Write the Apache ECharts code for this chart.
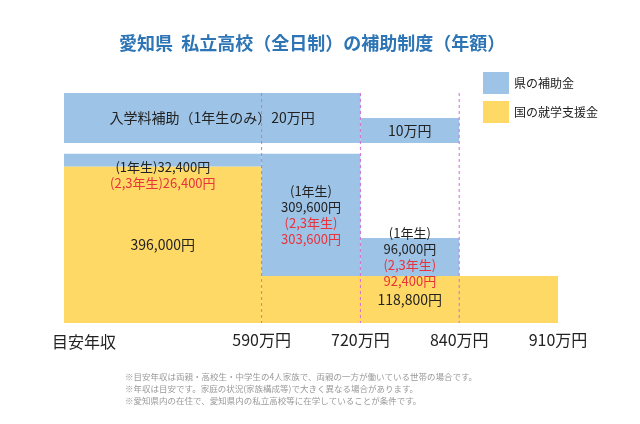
<!DOCTYPE html>
<html>
<head>
<meta charset="utf-8">
<script src="https://cdn.jsdelivr.net/npm/echarts@6/dist/echarts.min.js"></script>
<style>
  html, body { margin: 0; padding: 0; background: #fff; }
  #main { width: 640px; height: 424px; }
</style>
</head>
<body>
<div id="main"></div>
<script>
// 目安年収の区切り（万円）
var incomeTicks = [590, 720, 840, 910];
// 区分ごとの金額（円）
var kuniShien = [396000, 118800, 118800, 118800];   // 国の就学支援金
var kenHojo1 = [32400, 309600, 96000, 0];           // 県の補助金（1年生）
var kenHojo23 = [26400, 303600, 92400, 0];          // 県の補助金（2,3年生）
var nyugakuHojo = [200000, 200000, 100000, 0];      // 入学料補助（1年生のみ）

var notes = [
  '※目安年収は両親・高校生・中学生の4人家族で、両親の一方が働いている世帯の場合です。',
  '※年収は目安です。家庭の状況(家族構成等)で大きく異なる場合があります。',
  '※愛知県内の在住で、愛知県内の私立高校等に在学していることが条件です。'
];

var BLUE = '#9dc3e6';
var YELLOW = '#ffd966';
var RED = '#e8323c';
var FONT = '"Noto Sans CJK JP", sans-serif';

// 年収は目安の区分なので順序軸にする（最初の区分は2目盛り分の幅）
var xCats = ['', ' '].concat(incomeTicks.map(String));
var edges = [0].concat(incomeTicks.map(function (v) { return xCats.indexOf(String(v)); }));

function yen(v) {
  return String(v).replace(/\B(?=(\d{3})+(?!\d))/g, ',') + '円';
}

// 同じ金額が続く区分はひとつの帯にまとめる
function runs(values) {
  var res = [];
  for (var i = 0; i < values.length; i++) {
    if (!values[i]) continue;
    var last = res[res.length - 1];
    if (last && last.to === i && last.value === values[i]) {
      last.to = i + 1;
    } else {
      res.push({from: i, to: i + 1, value: values[i]});
    }
  }
  return res;
}

var kuniRuns = runs(kuniShien);
var kuniData = kuniRuns.map(function (r) {
  return [edges[r.from], edges[r.to], 0, r.value];
});
var kuniLabels = kuniRuns.map(function (r) { return yen(r.value); });

var kenData = [];
var kenLabels = [];
for (var i = 0; i < kenHojo1.length; i++) {
  if (!kenHojo1[i]) continue;
  kenData.push([edges[i], edges[i + 1], kuniShien[i], kuniShien[i] + kenHojo1[i]]);
  kenLabels.push(i === 0
    ? '{a|(1年生)' + yen(kenHojo1[i]) + '}\n{b|(2,3年生)' + yen(kenHojo23[i]) + '}'
    : '{a|(1年生)}\n{a|' + yen(kenHojo1[i]) + '}\n{b|(2,3年生)}\n{b|' + yen(kenHojo23[i]) + '}');
}

var nyugakuRuns = runs(nyugakuHojo);
var nyugakuData = nyugakuRuns.map(function (r) {
  return [edges[r.from], edges[r.to], 0, r.value];
});
var nyugakuLabels = nyugakuRuns.map(function (r, k) {
  return (k === 0 ? '入学料補助（1年生のみ）' : '') + (r.value / 10000) + '万円';
});

function rectRenderer(labels, textStyle, position) {
  return function (params, api) {
    var p0 = api.coord([api.value(0), api.value(3)]);
    var p1 = api.coord([api.value(1), api.value(2)]);
    return {
      type: 'rect',
      shape: {x: p0[0], y: p0[1], width: p1[0] - p0[0], height: p1[1] - p0[1]},
      style: {fill: api.visual('color')},
      textContent: {
        style: Object.assign({text: labels[params.dataIndex], fontFamily: FONT}, textStyle)
      },
      textConfig: {position: typeof position === 'function' ? position(params.dataIndex) : position}
    };
  };
}

var myChart = echarts.init(document.getElementById('main'));

var gridPos = {left: 64, right: 82};

function hiddenX(idx) {
  return {type: 'category', gridIndex: idx, data: xCats, boundaryGap: false, show: false};
}

myChart.setOption({
  animation: false,
  title: [
    {
      text: '愛知県  私立高校（全日制）の補助制度（年額）',
      left: 114, top: 29,
      textStyle: {color: '#2e75b6', fontSize: 18, fontWeight: 'bold', fontFamily: FONT}
    },
    {
      text: '目安年収',
      left: 47, top: 329,
      textStyle: {color: '#222', fontSize: 16, fontWeight: 'normal', fontFamily: FONT}
    },
    {
      text: notes.join('\n'),
      left: 120, top: 366,
      textStyle: {color: '#999', fontSize: 8.5, lineHeight: 12, fontWeight: 'normal', fontFamily: FONT}
    }
  ],
  legend: {
    data: ['県の補助金', '国の就学支援金'],
    orient: 'vertical',
    left: 478, top: 67,
    icon: 'rect',
    itemWidth: 26, itemHeight: 22, itemGap: 7,
    textStyle: {fontSize: 12, color: '#222', fontFamily: FONT}
  },
  grid: [
    Object.assign({top: 153, bottom: 101}, gridPos),
    Object.assign({top: 93, height: 50}, gridPos),
    Object.assign({top: 93, bottom: 101}, gridPos)
  ],
  xAxis: [
    {
      type: 'category', gridIndex: 0, data: xCats, boundaryGap: false,
      axisLine: {show: false}, axisTick: {show: false}, splitLine: {show: false},
      axisLabel: {
        interval: 0,
        formatter: function (v) { return v.trim() ? v + '万円' : ''; },
        fontSize: 16, color: '#222', margin: 9, fontFamily: FONT
      }
    },
    hiddenX(1),
    hiddenX(2)
  ],
  yAxis: [
    {type: 'value', gridIndex: 0, min: 0, max: 430000, show: false},
    {type: 'value', gridIndex: 1, min: 0, max: 200000, show: false},
    {type: 'value', gridIndex: 2, min: 0, max: 1, show: false}
  ],
  series: [
    {
      name: '国の就学支援金',
      type: 'custom',
      xAxisIndex: 0, yAxisIndex: 0,
      itemStyle: {color: YELLOW},
      encode: {x: [0, 1], y: [2, 3]},
      renderItem: rectRenderer(kuniLabels, {fill: '#222', fontSize: 14}, 'inside'),
      data: kuniData
    },
    {
      name: '県の補助金',
      type: 'custom',
      xAxisIndex: 0, yAxisIndex: 0,
      itemStyle: {color: BLUE},
      encode: {x: [0, 1], y: [2, 3]},
      renderItem: rectRenderer(kenLabels, {
        lineHeight: 16,
        rich: {
          a: {fill: '#222', fontSize: 13, lineHeight: 16, fontFamily: FONT},
          b: {fill: RED, fontSize: 13, lineHeight: 16, fontFamily: FONT}
        }
      }, function (idx) { return idx === 0 ? 'insideTop' : 'inside'; }),
      data: kenData
    },
    {
      name: '県の補助金',
      type: 'custom',
      xAxisIndex: 1, yAxisIndex: 1,
      itemStyle: {color: BLUE},
      encode: {x: [0, 1], y: [2, 3]},
      renderItem: rectRenderer(nyugakuLabels, {fill: '#222', fontSize: 14}, 'inside'),
      data: nyugakuData
    },
    {
      name: '区切り',
      type: 'custom',
      xAxisIndex: 2, yAxisIndex: 2,
      z: 5,
      silent: true,
      encode: {x: 0},
      renderItem: function (params, api) {
        var top = api.coord([api.value(0), 1]);
        var bottom = api.coord([api.value(0), 0]);
        return {
          type: 'line',
          shape: {x1: top[0], y1: top[1], x2: bottom[0], y2: bottom[1]},
          style: {stroke: '#d66ad6', lineWidth: 1, lineDash: [3, 3]}
        };
      },
      data: edges.slice(1, edges.length - 1).map(function (v) { return [v]; })
    }
  ]
});
</script>
</body>
</html>
